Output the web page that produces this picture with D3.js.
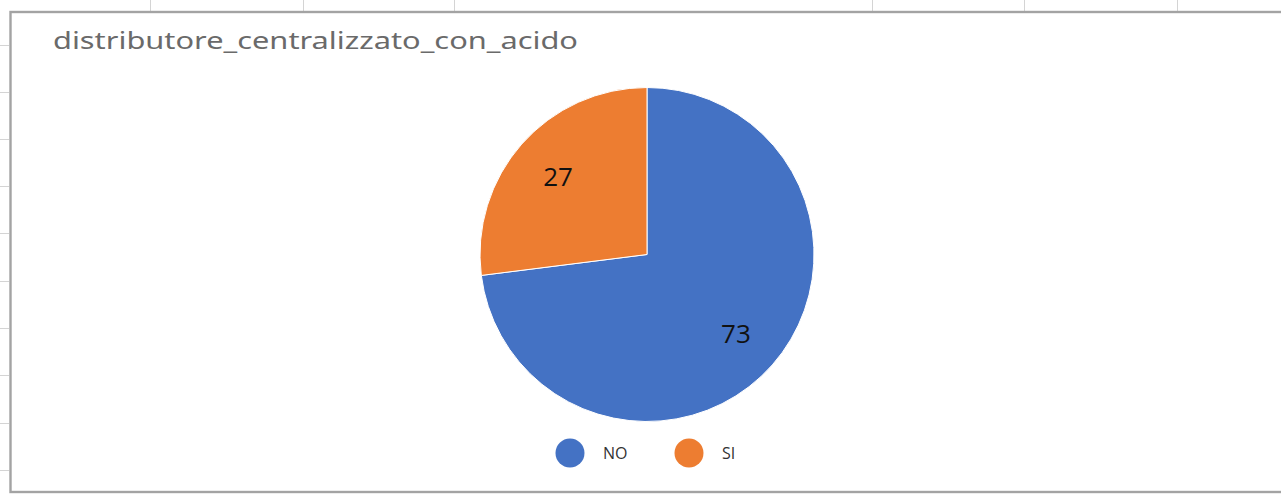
<!DOCTYPE html>
<html>
<head>
<meta charset="utf-8">
<script src="https://cdn.jsdelivr.net/npm/d3@7"></script>
<style>
  html, body { margin: 0; padding: 0; background: #ffffff; }
  svg { display: block; }
</style>
</head>
<body>
<svg id="chart" width="1281" height="495"></svg>
<script>
// Chart data
const title = "distributore_centralizzato_con_acido";
const categories = ["NO", "SI"];
const values = [73, 27];
const colors = ["#4472C4", "#ED7D31"];

// Worksheet grid peeking around the chart frame
const gridCols = [150, 303, 454, 872, 1024, 1177];
const gridRows = [45, 92, 139, 186, 233, 281, 328, 375, 423, 470];

const W = 1281, H = 495;
const svg = d3.select("#chart");

// sheet gridlines outside the chart object
svg.append("g").selectAll("line.col").data(gridCols).join("line")
  .attr("x1", d => d + 0.5).attr("x2", d => d + 0.5)
  .attr("y1", 0).attr("y2", 11)
  .attr("stroke", "#d4d4d4").attr("stroke-width", 1);
svg.append("g").selectAll("line.row").data(gridRows).join("line")
  .attr("x1", 0).attr("x2", 9)
  .attr("y1", d => d + 0.5).attr("y2", d => d + 0.5)
  .attr("stroke", "#d4d4d4").attr("stroke-width", 1);

// chart frame
svg.append("rect")
  .attr("x", 10.5).attr("y", 12)
  .attr("width", W + 20).attr("height", 480)
  .attr("fill", "#ffffff")
  .attr("stroke", "#a3a3a3").attr("stroke-width", 2.4);

// title
svg.append("text")
  .attr("x", 53).attr("y", 49)
  .attr("font-family", "'Noto Sans', 'Open Sans', sans-serif")
  .attr("font-size", 24)
  .attr("fill", "#6a6a6a")
  .attr("textLength", 525)
  .attr("lengthAdjust", "spacingAndGlyphs")
  .text(title);

// pie
const cx = 647, cy = 254.5, r = 167;
const pie = d3.pie().sort(null).value(d => d.value);
const data = categories.map((c, i) => ({ name: c, value: values[i], color: colors[i] }));
const arcs = pie(data);
const arc = d3.arc().innerRadius(0).outerRadius(r);
const labelArc = d3.arc().innerRadius(r * 0.71).outerRadius(r * 0.71);

const g = svg.append("g").attr("transform", `translate(${cx},${cy})`);
g.selectAll("path").data(arcs).join("path")
  .attr("d", arc)
  .attr("fill", d => d.data.color)
  .attr("stroke", "#ffffff").attr("stroke-width", 1);

g.selectAll("text").data(arcs).join("text")
  .attr("transform", d => `translate(${labelArc.centroid(d)})`)
  .attr("text-anchor", "middle")
  .attr("dominant-baseline", "central")
  .attr("font-family", "'Open Sans', 'Noto Sans', sans-serif")
  .attr("font-size", 26)
  .attr("fill", "#111111")
  .text(d => d.data.value);

// legend
const legendX = [570, 689];
const legend = svg.append("g").selectAll("g").data(data).join("g")
  .attr("transform", (d, i) => `translate(${legendX[i]},453)`);
legend.append("circle").attr("r", 14.5).attr("fill", d => d.color);
legend.append("text")
  .attr("x", 33).attr("y", 0)
  .attr("dominant-baseline", "central")
  .attr("font-family", "'Open Sans', 'Noto Sans', sans-serif")
  .attr("font-size", 16)
  .attr("fill", "#333333")
  .text(d => d.name);
</script>
</body>
</html>
